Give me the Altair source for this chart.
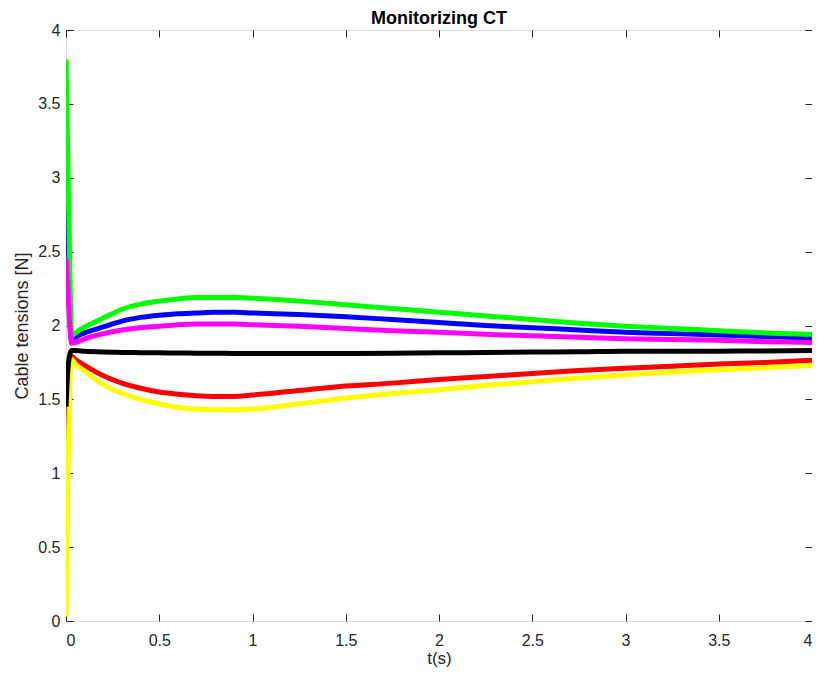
import altair as alt
import pandas as pd

t = [0, 0.01, 0.02, 0.03, 0.05, 0.1, 0.2, 0.3, 0.4, 0.5, 0.6, 0.7, 0.8, 0.9, 1.0,
     1.25, 1.5, 1.75, 2.0, 2.25, 2.5, 2.75, 3.0, 3.25, 3.5, 3.75, 4.0]

blue = [3.15, 2.70, 2.20, 1.90, 1.92, 1.95, 1.99, 2.03, 2.055, 2.07, 2.08, 2.085, 2.09, 2.09, 2.085,
        2.075, 2.06, 2.04, 2.02, 2.00, 1.985, 1.97, 1.955, 1.945, 1.935, 1.925, 1.915]
green = [3.80, 3.10, 2.40, 1.93, 1.95, 1.99, 2.05, 2.11, 2.145, 2.165, 2.18, 2.19, 2.19, 2.19, 2.185,
         2.165, 2.14, 2.115, 2.09, 2.065, 2.04, 2.015, 1.995, 1.98, 1.965, 1.95, 1.94]
magenta = [2.45, 2.25, 2.00, 1.88, 1.885, 1.91, 1.945, 1.97, 1.985, 1.995, 2.005, 2.01, 2.01, 2.01, 2.005,
           1.995, 1.98, 1.965, 1.955, 1.94, 1.93, 1.92, 1.91, 1.905, 1.90, 1.89, 1.885]
red = [0.65, 1.30, 1.70, 1.79, 1.77, 1.73, 1.66, 1.61, 1.575, 1.55, 1.535, 1.525, 1.52, 1.52, 1.53,
       1.56, 1.59, 1.61, 1.635, 1.655, 1.675, 1.695, 1.71, 1.725, 1.74, 1.75, 1.765]
yellow = [0.03, 1.00, 1.60, 1.77, 1.74, 1.69, 1.60, 1.54, 1.50, 1.47, 1.445, 1.435, 1.43, 1.43, 1.435,
          1.47, 1.51, 1.54, 1.565, 1.595, 1.62, 1.645, 1.665, 1.685, 1.70, 1.715, 1.73]
black = [1.45, 1.70, 1.80, 1.83, 1.83, 1.825, 1.82, 1.818, 1.816, 1.815, 1.814, 1.813, 1.812, 1.811, 1.81,
         1.81, 1.81, 1.812, 1.815, 1.817, 1.82, 1.822, 1.825, 1.825, 1.826, 1.828, 1.83]

series = [("#0000FF", blue), ("#00FF00", green), ("#FF00FF", magenta),
          ("#FF0000", red), ("#FFFF00", yellow), ("#000000", black)]

ticks = [0, 0.5, 1, 1.5, 2, 2.5, 3, 3.5, 4]
FONT = "Liberation Sans"
AX = "#262626"
TS = 7

tick_axis = dict(
    values=ticks, format="~g", grid=False, domain=False,
    tickColor=AX, tickSize=TS, offset=-TS, labelColor=AX, labelFont=FONT,
    labelFontSize=16,
)

layers = []
n = len(series)
for i, (col, vals) in enumerate(series):
    df = pd.DataFrame({"t": t, "v": vals})
    if i == 0:
        xax = alt.Axis(title="t(s)", orient="bottom", labelPadding=11, titlePadding=2,
                       titleFont=FONT, titleFontSize=17, titleColor=AX, titleFontWeight="normal",
                       **tick_axis)
        yax = alt.Axis(title="Cable tensions [N]", orient="left", labelPadding=6, titlePadding=6,
                       titleFont=FONT, titleFontSize=18, titleColor=AX, titleFontWeight="normal",
                       **tick_axis)
    elif i == n - 1:
        xax = alt.Axis(title=None, orient="top", labels=False, **tick_axis)
        yax = alt.Axis(title=None, orient="right", labels=False, **tick_axis)
    else:
        xax = None
        yax = None
    layers.append(
        alt.Chart(df).mark_line(color=col, strokeWidth=5, clip=True, interpolate="monotone").encode(
            x=alt.X("t:Q", scale=alt.Scale(domain=[0, 4], nice=False, zero=False), axis=xax),
            y=alt.Y("v:Q", scale=alt.Scale(domain=[0, 4], nice=False, zero=False), axis=yax),
        )
    )

chart = alt.layer(*layers).resolve_axis(x="independent", y="independent").properties(
    width=746,
    height=591,
    autosize=alt.AutoSizeParams(type="none"),
    padding={"left": 58, "top": 22, "right": 0, "bottom": 47},
    title=alt.Title("Monitorizing CT", font=FONT, fontSize=18, fontWeight="bold",
                    color="#000000", offset=5, dy=11, anchor="middle"),
).configure_view(stroke=AX, strokeWidth=1).configure(background="white")

chart.save("out.html", embed_options={"renderer": "svg", "actions": False})
